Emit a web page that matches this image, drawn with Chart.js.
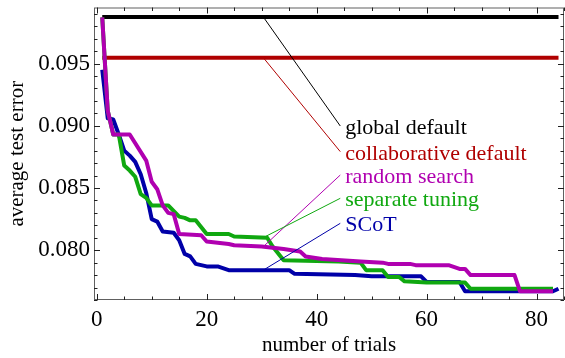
<!DOCTYPE html>
<html><head><meta charset="utf-8">
<script src="https://cdn.jsdelivr.net/npm/chart.js@4"></script>
<style>html,body{margin:0;padding:0;background:#fff;overflow:hidden}</style>
</head><body>
<canvas id="c" width="565" height="358"></canvas>
<script>
// ---- data ----
const scotTrials = [1,2,3,4,5,6,7,8,9,10,11,12,14,15,16,17,18,20,22,24,35,36,47,50,59,60,66,67,83,84];
const scotError  = [0.0945,0.0906,0.0905,0.0893,0.0880,0.0876,0.0871,0.0861,0.0846,0.0825,0.0823,0.0815,0.0814,0.0808,0.0797,0.0795,0.0789,0.0787,0.0787,0.0784,0.0784,0.0781,0.0780,0.0779,0.0779,0.07745,0.07745,0.0767,0.0767,0.0769];

const separateTrials = [1,2,3,4,5,6,7,8,9,10,13,15,16,17,18,20,24,25,31,32,34,44,48,49,52,53,55,56,60,67,68,83];
const separateError  = [0.0987,0.0912,0.0893,0.0893,0.0868,0.0864,0.0859,0.0845,0.0842,0.0836,0.0836,0.0827,0.0826,0.0824,0.0824,0.0813,0.0813,0.0811,0.0810,0.0803,0.0792,0.0791,0.0790,0.0784,0.0784,0.07785,0.07785,0.0775,0.0774,0.0774,0.0769,0.0769];

const randomTrials = [1,2,3,6,9,10,11,12,13,14,15,19,20,24,25,30,34,37,38,41,48,52,53,57,58,64,66,67,68,76,77,83];
const randomError  = [0.0987,0.0912,0.0893,0.0893,0.0872,0.0855,0.0849,0.0836,0.0830,0.0829,0.0813,0.0812,0.0807,0.0805,0.0804,0.0803,0.0801,0.0799,0.0795,0.0793,0.0791,0.0790,0.0789,0.0789,0.0788,0.0788,0.0785,0.0785,0.0780,0.0780,0.0767,0.0767];

const defaultTrials = [1,84];
const globalDefaultError = [0.09874,0.09874];
const collabDefaultError = [0.09547,0.09547];

const seriesNames = ['global default','collaborative default','random search','separate tuning','SCoT'];
const xTickValues = [0,20,40,60,80];
const yTickValues = [0.080,0.085,0.090,0.095];
const xTitle = 'number of trials';
const yTitle = 'average test error';

// ---- styles ----
const colors = ['#000000','#b00000','#b000b0','#10a810','#0000a8'];
const FONT = "'Liberation Serif', 'Times New Roman', Times, serif";

function pts(xs, ys){ return xs.map((x,i)=>({x:x, y:ys[i]})); }
function valueAt(xs, ys, t){
  for (let i=0;i<xs.length-1;i++){
    if (t>=xs[i] && t<=xs[i+1]) { const f=(t-xs[i])/(xs[i+1]-xs[i]); return ys[i]+f*(ys[i+1]-ys[i]); }
  }
  return ys[ys.length-1];
}

const seriesSets = [
  [defaultTrials, globalDefaultError],
  [defaultTrials, collabDefaultError],
  [randomTrials, randomError],
  [separateTrials, separateError],
  [scotTrials, scotError]
];
const drawOrder = [5,4,1,2,3];

const datasets = seriesSets.map((s,i)=>({
  label: seriesNames[i],
  data: pts(s[0], s[1]),
  borderColor: colors[i],
  backgroundColor: colors[i],
  borderWidth: 4,
  pointRadius: 0,
  tension: 0,
  fill: false,
  borderJoinStyle: 'round',
  borderCapStyle: 'butt',
  order: drawOrder[i]
}));

// label anchors (leader end, data units) per series
const labelAnchorError = [0.08998,0.08792,0.08604,0.08417,0.08216];
const leaderStartTrial = 30.3, leaderEndTrial = 44.3, labelTrial = 45.2;

const framePlugin = {
  id: 'frameTicks',
  afterDatasetsDraw(chart){
    const {ctx, chartArea, scales} = chart;
    const {left,right,top,bottom} = chartArea;
    const x = scales.x, y = scales.y;
    ctx.save();
    ctx.lineWidth = 1;
    ctx.strokeStyle = '#606060';
    ctx.strokeRect(left+0.5, top+0.5, right-left-1, bottom-top-1);
    ctx.strokeStyle = '#202020';
    ctx.beginPath();
    for (let v=0; v<=85; v+=5){
      const px = Math.round(x.getPixelForValue(v))+0.5;
      const len = (v%20===0)?6:3.5;
      ctx.moveTo(px,bottom); ctx.lineTo(px,bottom-len);
      ctx.moveTo(px,top); ctx.lineTo(px,top+len);
    }
    for (let k=76; k<=99; k++){
      const py = Math.round(y.getPixelForValue(k/1000))+0.5;
      const len = (k%5===0)?6:3.5;
      ctx.moveTo(left,py); ctx.lineTo(left+len,py);
      ctx.moveTo(right,py); ctx.lineTo(right-len,py);
    }
    ctx.stroke();

    // leaders + labels
    ctx.font = '22px ' + FONT;
    ctx.textAlign = 'left';
    ctx.textBaseline = 'alphabetic';
    seriesSets.forEach((s,i)=>{
      const sx = x.getPixelForValue(leaderStartTrial);
      const sy = y.getPixelForValue(valueAt(s[0], s[1], leaderStartTrial));
      const ex = x.getPixelForValue(leaderEndTrial);
      const ey = y.getPixelForValue(labelAnchorError[i]);
      ctx.strokeStyle = colors[i];
      ctx.lineWidth = 1;
      ctx.beginPath(); ctx.moveTo(sx,sy); ctx.lineTo(ex,ey); ctx.stroke();
      ctx.fillStyle = colors[i];
      ctx.fillText(seriesNames[i], x.getPixelForValue(labelTrial), ey+8);
    });
    ctx.restore();
  }
};

new Chart(document.getElementById('c'), {
  type: 'line',
  data: { datasets },
  options: {
    responsive: false,
    devicePixelRatio: 1,
    animation: false,
    layout: { padding: { top: 7.5, right: 1, left: 0, bottom: 0 } },
    plugins: { legend: {display:false}, tooltip: {enabled:false} },
    scales: {
      x: {
        type: 'linear', min: -0.5, max: 85,
        grid: { display: false, drawTicks: false },
        border: { display: false },
        afterFit: s => { s.height = 58; s.paddingLeft = 0; s.paddingRight = 0; },
        afterBuildTicks: s => { s.ticks = xTickValues.map(v=>({value:v})); },
        ticks: { color:'#000', font:{family:FONT, size:23}, padding: 6, maxRotation:0, autoSkip:false },
        title: { display:true, text:xTitle, color:'#000', font:{family:FONT, size:21}, padding:{top:0,bottom:0} }
      },
      y: {
        type: 'linear', min: 0.076, max: 0.0995,
        grid: { display: false, drawTicks: false },
        border: { display: false },
        afterFit: s => { s.width = 94; s.paddingTop = 0; s.paddingBottom = 0; },
        afterBuildTicks: s => { s.ticks = yTickValues.map(v=>({value:v})); },
        ticks: { color:'#000', font:{family:FONT, size:23}, padding: 4, autoSkip:false,
                 callback: v => Number(v).toFixed(3) },
        title: { display:true, text:yTitle, color:'#000', font:{family:FONT, size:21}, padding:{top:5,bottom:0} }
      }
    }
  },
  plugins: [framePlugin]
});
</script>
</body></html>
